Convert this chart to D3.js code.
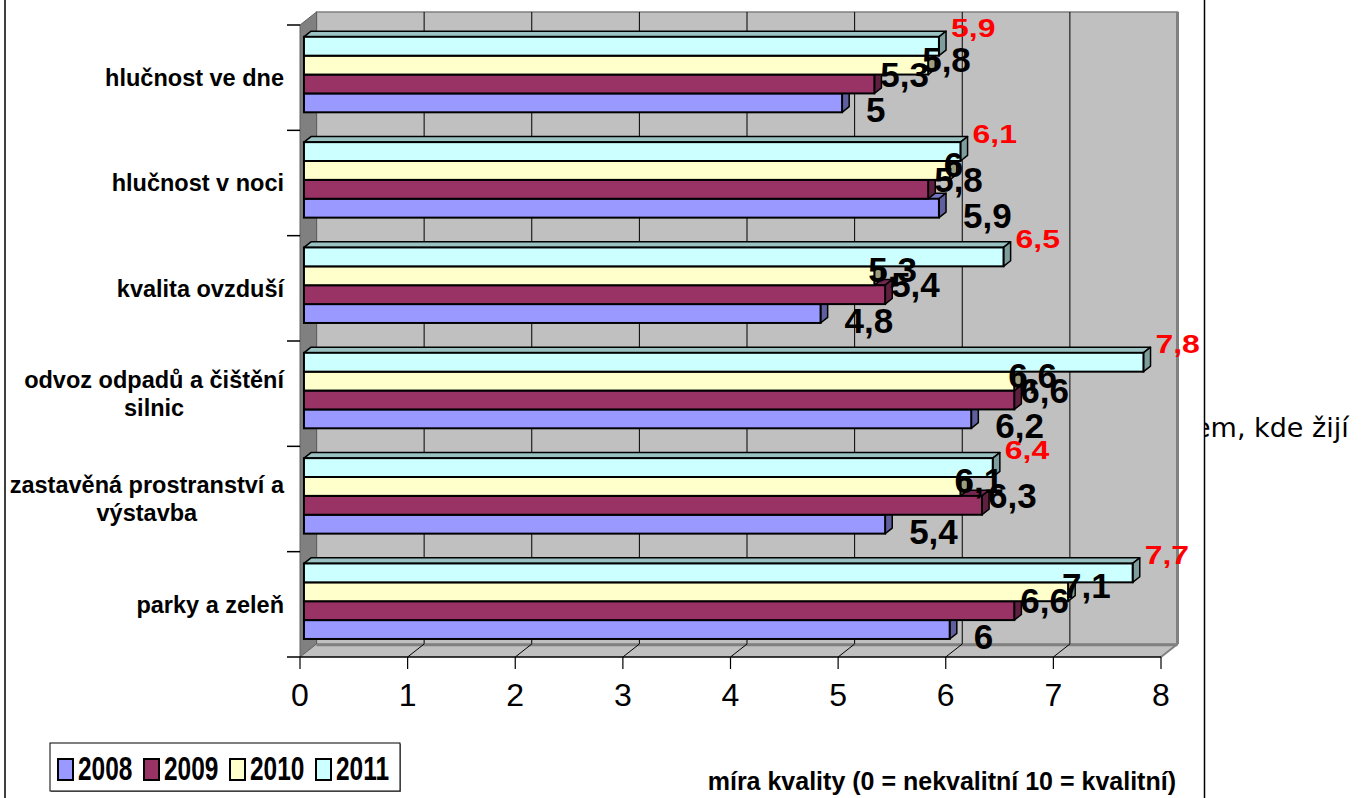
<!DOCTYPE html>
<html>
<head>
<meta charset="utf-8">
<script src="https://cdn.jsdelivr.net/npm/d3@7"></script>
<style>
  body { margin: 0; background: #fff; }
  svg { display: block; }
</style>
</head>
<body>
<svg id="chart" width="1364" height="798"></svg>
<script>
// ---- data ----
const categories = [
  "hlučnost ve dne",
  "hlučnost v noci",
  "kvalita ovzduší",
  "odvoz odpadů a čištění\nsilnic",
  "zastavěná prostranství a\nvýstavba",
  "parky a zeleň"
];
const years = ["2008", "2009", "2010", "2011"];
const v2008 = [5, 5.9, 4.8, 6.2, 5.4, 6];
const v2009 = [5.3, 5.8, 5.4, 6.6, 6.3, 6.6];
const v2010 = [5.8, 6, 5.3, 6.6, 6.1, 7.1];
const v2011 = [5.9, 6.1, 6.5, 7.8, 6.4, 7.7];
const xTicks = [0, 1, 2, 3, 4, 5, 6, 7, 8];
const axisTitle = "míra kvality (0 = nekvalitní 10 = kvalitní)";
const seriesColors = ["#9999FF", "#993366", "#FFFFCC", "#CCFFFF"];

const series = [v2008, v2009, v2010, v2011];

// ---- layout ----
const svg = d3.select("#chart");
const FONT = "'Liberation Sans', Arial, sans-serif";

// oblique projection of the depth axis (0 = front plane, 1 = back wall)
const DX = 16.5, DY = -13;
const x = d3.scaleLinear().domain([0, 8]).range([300, 1161]);
const y = d3.scaleBand().domain(categories).range([25, 657]);
const yIn = d3.scaleBand().domain(years.slice().reverse())
  .range([0, y.bandwidth()]).paddingOuter(0.79);
const P = (v, yy, d) => [x(v) + DX * d, yy + DY * d];
const poly = pts => "M" + pts.map(p => p.join(",")).join("L") + "Z";

// text partly hidden behind the chart object
svg.append("text")
  .attr("x", 1194).attr("y", 437)
  .attr("font-family", "'DejaVu Sans', Verdana, sans-serif")
  .attr("font-size", 27).attr("fill", "#000")
  .text("em, kde žijí");

// chart object background and frame
svg.append("rect").attr("x", 5).attr("y", 0).attr("width", 1199).attr("height", 798).attr("fill", "#fff");
svg.append("line").attr("x1", 5).attr("x2", 5).attr("y1", 0).attr("y2", 798).attr("stroke", "#000").attr("stroke-width", 1.5);
svg.append("line").attr("x1", 1204.5).attr("x2", 1204.5).attr("y1", 0).attr("y2", 798).attr("stroke", "#000").attr("stroke-width", 1.5);

const yTop = y.range()[0], yBot = y.range()[1];
const plot = svg.append("g");

// back wall
plot.append("path")
  .attr("d", poly([P(0, yTop, 1), P(8, yTop, 1), P(8, yBot, 1), P(0, yBot, 1)]))
  .attr("fill", "#C0C0C0").attr("stroke", "#808080").attr("stroke-width", 1.5);
plot.append("line")
  .attr("x1", P(8, 0, 1)[0]).attr("x2", P(8, 0, 1)[0])
  .attr("y1", P(8, yTop, 1)[1]).attr("y2", P(8, yBot, 1)[1])
  .attr("stroke", "#808080").attr("stroke-width", 3);

// back wall gridlines
plot.selectAll(".grid").data(xTicks.filter(t => t > 0 && t < 8)).join("line")
  .attr("x1", t => P(t, 0, 1)[0]).attr("x2", t => P(t, 0, 1)[0])
  .attr("y1", P(0, yTop, 1)[1]).attr("y2", P(0, yBot, 1)[1])
  .attr("stroke", "#000").attr("stroke-width", 1);

// floor
plot.append("path")
  .attr("d", poly([P(0, yBot, 0), P(8, yBot, 0), P(8, yBot, 1), P(0, yBot, 1)]))
  .attr("fill", "#C0C0C0").attr("stroke", "none");
plot.append("line")
  .attr("x1", P(0, yBot, 1)[0]).attr("x2", P(8, yBot, 1)[0])
  .attr("y1", P(0, yBot, 1)[1] + 1).attr("y2", P(8, yBot, 1)[1] + 1)
  .attr("stroke", "#808080").attr("stroke-width", 2.5);
plot.append("line")
  .attr("x1", P(8, yBot, 1)[0]).attr("y1", P(8, yBot, 1)[1])
  .attr("x2", P(8, yBot, 0)[0]).attr("y2", P(8, yBot, 0)[1])
  .attr("stroke", "#808080").attr("stroke-width", 2);
plot.selectAll(".fgrid").data(xTicks.filter(t => t > 0 && t < 8)).join("line")
  .attr("x1", t => P(t, yBot, 1)[0]).attr("y1", t => P(t, yBot, 1)[1])
  .attr("x2", t => P(t, yBot, 0)[0]).attr("y2", t => P(t, yBot, 0)[1])
  .attr("stroke", "#000").attr("stroke-width", 1);

// left wall
plot.append("path")
  .attr("d", poly([P(0, yTop, 0), P(0, yTop, 1), P(0, yBot, 1), P(0, yBot, 0)]))
  .attr("fill", "#808080").attr("stroke", "#606060").attr("stroke-width", 1);

// category axis ticks
plot.selectAll(".ctick").data(d3.range(categories.length + 1)).join("line")
  .attr("x1", 287).attr("x2", x(0))
  .attr("y1", i => yTop + i * y.step()).attr("y2", i => yTop + i * y.step())
  .attr("stroke", "#000").attr("stroke-width", 1.5);

// value axis line and ticks
plot.append("line").attr("x1", x(0)).attr("x2", x(8)).attr("y1", yBot).attr("y2", yBot)
  .attr("stroke", "#000").attr("stroke-width", 1.5);
plot.selectAll(".vtick").data(xTicks).join("line")
  .attr("x1", t => x(t)).attr("x2", t => x(t)).attr("y1", yBot).attr("y2", yBot + 12)
  .attr("stroke", "#000").attr("stroke-width", 1.2);
plot.selectAll(".vlab").data(xTicks).join("text")
  .attr("x", t => x(t)).attr("y", 706)
  .attr("text-anchor", "middle").attr("font-family", FONT).attr("font-size", 32)
  .text(t => t);

// 3D bars
const D0 = 0.24, D1 = 0.67;
const bh = yIn.bandwidth();
const shade = (c, k) => { const r = d3.rgb(c); return d3.rgb(r.r * k, r.g * k, r.b * k).toString(); };
const bars = plot.append("g");
categories.forEach((cat, ci) => {
  series.forEach((vals, si) => {
    const v = vals[ci];
    const top = y(cat) + yIn(years[si]);
    const g = bars.append("g");
    const col = seriesColors[si];
    g.append("path")
      .attr("d", poly([P(0, top, D0), P(0, top, D1), P(v, top, D1), P(v, top, D0)]))
      .attr("fill", shade(col, 0.76)).attr("stroke", "#000").attr("stroke-width", 1.5).attr("stroke-linejoin", "round");
    g.append("path")
      .attr("d", poly([P(v, top, D0), P(v, top, D1), P(v, top + bh, D1), P(v, top + bh, D0)]))
      .attr("fill", shade(col, 0.62)).attr("stroke", "#000").attr("stroke-width", 1.5).attr("stroke-linejoin", "round");
    const f0 = P(0, top, D0), f1 = P(v, top + bh, D0);
    g.append("rect")
      .attr("x", f0[0]).attr("y", f0[1]).attr("width", f1[0] - f0[0]).attr("height", f1[1] - f0[1])
      .attr("fill", col).attr("stroke", "#000").attr("stroke-width", 2);
  });
});

// value labels
const labDx = [24, 6, -6, 12];
const labDy = [7, -10, -6, -18];
const fmt = v => String(v).replace(".", ",");
const labels = plot.append("g");
const LAB_FS = 35, RED_FS = 32, RED_SY = 0.8;
categories.forEach((cat, ci) => {
  series.forEach((vals, si) => {
    const v = vals[ci];
    const top = y(cat) + yIn(years[si]);
    const [fx, fy] = P(v, top + bh / 2, D0);
    const cx = fx + labDx[si], cy = fy + labDy[si];
    if (si === 3) {
      labels.append("text")
        .attr("transform", `translate(${cx},${cy + 0.36 * RED_FS * RED_SY}) scale(1,${RED_SY})`)
        .attr("font-family", FONT).attr("font-size", RED_FS).attr("font-weight", "bold")
        .attr("fill", "#FF0000").text(fmt(v));
    } else {
      labels.append("text")
        .attr("x", cx).attr("y", cy + 0.36 * LAB_FS)
        .attr("font-family", FONT).attr("font-size", LAB_FS).attr("font-weight", "bold")
        .attr("fill", "#000").text(fmt(v));
    }
  });
});

// category labels (multi-line labels centred within a right-aligned block)
const CAT_RIGHT = 284, CAT_FS = 23.5, CAT_LH = 28;
categories.forEach(cat => {
  const lines = cat.split("\n");
  const g = svg.append("g");
  const texts = lines.map(l => g.append("text")
    .attr("font-family", FONT).attr("font-size", CAT_FS).attr("font-weight", "bold").text(l));
  const w = d3.max(texts, t => t.node().getComputedTextLength());
  const cxm = CAT_RIGHT - w / 2;
  const cy = y(cat) + y.bandwidth() / 2;
  texts.forEach((t, i) => {
    t.attr("x", cxm).attr("text-anchor", "middle")
      .attr("y", cy + (i - (lines.length - 1) / 2) * CAT_LH + 0.36 * CAT_FS);
  });
});

// axis title
svg.append("text")
  .attr("x", 1176).attr("y", 790).attr("text-anchor", "end")
  .attr("font-family", FONT).attr("font-size", 25).attr("font-weight", "bold")
  .text(axisTitle);

// legend
const lg = svg.append("g");
lg.append("rect").attr("x", 51).attr("y", 744).attr("width", 350).attr("height", 48).attr("fill", "#808080");
lg.append("rect").attr("x", 50).attr("y", 743).attr("width", 350).attr("height", 48)
  .attr("fill", "#fff").attr("stroke", "#000").attr("stroke-width", 1);
const legX = [58, 144, 230, 316];
years.forEach((yr, i) => {
  lg.append("rect").attr("x", legX[i]).attr("y", 759).attr("width", 15).attr("height", 21)
    .attr("fill", seriesColors[i]).attr("stroke", "#000").attr("stroke-width", 2);
  lg.append("text")
    .attr("transform", `translate(${legX[i] + 20},780) scale(0.72,1)`)
    .attr("font-family", FONT).attr("font-size", 34).attr("font-weight", "bold")
    .text(yr);
});
</script>
</body>
</html>
